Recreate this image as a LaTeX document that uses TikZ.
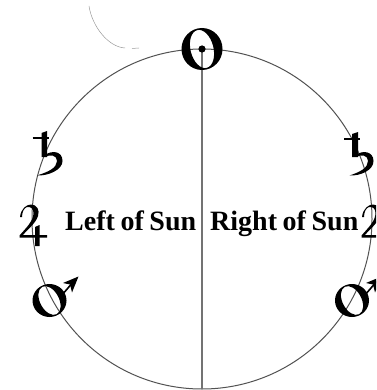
\documentclass[tikz,border=0pt]{standalone}
\usepackage{fontspec}
\setmainfont{Liberation Serif}
\newfontfamily\labelfont[WordSpace=0.8]{Liberation Serif}
\tikzset{
  orbit/.style={draw=black!68,line width=1pt},
  axisline/.style={draw=black!55,line width=1.5pt},
  faint/.style={draw=black!40,line width=0.5pt},
  glyphfill/.style={fill=black,even odd rule},
  glyphline/.style={draw=black,line cap=butt},
  sunlabel/.style={font=\labelfont\bfseries\fontsize{28}{28}\selectfont,inner sep=0pt,anchor=base west}
}
\begin{document}
\begin{tikzpicture}[x=1pt,y=-1pt]
\useasboundingbox (0,0) rectangle (376,390);
\begin{scope}
\clip (0,0) rectangle (376,390);
\coordinate (centre) at (202,219);
\coordinate (top) at (202,49);
\coordinate (bottom) at (202,389);
% faint arc
\draw[faint] (89,6) .. controls (92,26) and (108,47) .. (125,48) (132,48.5) -- (139,48);
% orbit and axis
\draw[orbit] (centre) circle [radius=170];
\draw[axisline] (top) -- (bottom);
% Sun
\path[glyphfill] (top) circle [x radius=20.5,y radius=21]
  (top) circle [x radius=11.5,y radius=19.5,rotate=14];
\fill (top) circle [radius=3.6];
% Saturn left
\draw[glyphline,line width=1.4pt] (32.5,138) -- (49,138);
\fill (41.5,133) -- (47,131) -- (47,157) -- (41.5,157) -- cycle;
\fill (45,155) .. controls (52,150) and (62.5,151) .. (62.5,161)
  .. controls (62.5,170) and (48,176) .. (37,175.5)
  .. controls (48,172) and (57,168) .. (57,161)
  .. controls (57,155) and (50,154) .. (45,157) -- cycle;
% Saturn right
\draw[glyphline,line width=1.4pt] (344,139) -- (360,139);
\fill (352,134) -- (358,132) -- (358,157) -- (352,157) -- cycle;
\fill (356,155) .. controls (362,150) and (373.5,151) .. (373.5,161)
  .. controls (373.5,170) and (361,176) .. (349.5,175.5)
  .. controls (360,172) and (368,168) .. (368,161)
  .. controls (368,155) and (361,154) .. (356,157) -- cycle;
% Jupiter left
\fill (20,217) .. controls (21,208) and (27,204.5) .. (31,204.5)
  .. controls (37,204.5) and (40,210) .. (38,216)
  .. controls (36,223) and (27,230) .. (23,235)
  -- (47,235) -- (47,237.5) -- (19.5,237.5) -- (19.5,235.5)
  .. controls (26,228) and (33.5,221) .. (33.5,213)
  .. controls (33.5,208) and (30,206.5) .. (27,207)
  .. controls (24,208) and (22,212) .. (22,217) -- cycle;
\fill (35,227) -- (39.5,225) -- (39.5,246) -- (35,246) -- cycle;
% Jupiter right
\fill (362,217) .. controls (363,208) and (369,204.5) .. (373,204.5)
  .. controls (379,204.5) and (382,210) .. (380,216)
  .. controls (378,223) and (369,230) .. (365,235)
  -- (389,235) -- (389,237.5) -- (361.5,237.5) -- (361.5,235.5)
  .. controls (368,228) and (375.5,221) .. (375.5,213)
  .. controls (375.5,208) and (372,206.5) .. (369,207)
  .. controls (366,208) and (364,212) .. (364,217) -- cycle;
% Mars left
\path[glyphfill] (49.5,300.5) circle [x radius=17,y radius=16.5]
  (49.5,300.5) circle [x radius=9.5,y radius=15.5,rotate=28];
\draw[glyphline,line width=1.6pt] (62,295) -- (74,281);
\fill (78.5,276.5) -- (63,283) -- (70,284.5) -- (72,292.5) -- cycle;
% Mars right
\path[glyphfill] (352,300.5) circle [x radius=17,y radius=16.5]
  (352,300.5) circle [x radius=9.5,y radius=15.5,rotate=28];
\draw[glyphline,line width=1.6pt] (365,295) -- (377,281);
\fill (381.5,276.5) -- (366,283) -- (373,284.5) -- (375,292.5) -- cycle;
\end{scope}
% labels
\node[sunlabel] (left) at (65,230) {Left of Sun};
\node[sunlabel] (right) at (210,230) {Right of Sun};
\end{tikzpicture}
\end{document}
